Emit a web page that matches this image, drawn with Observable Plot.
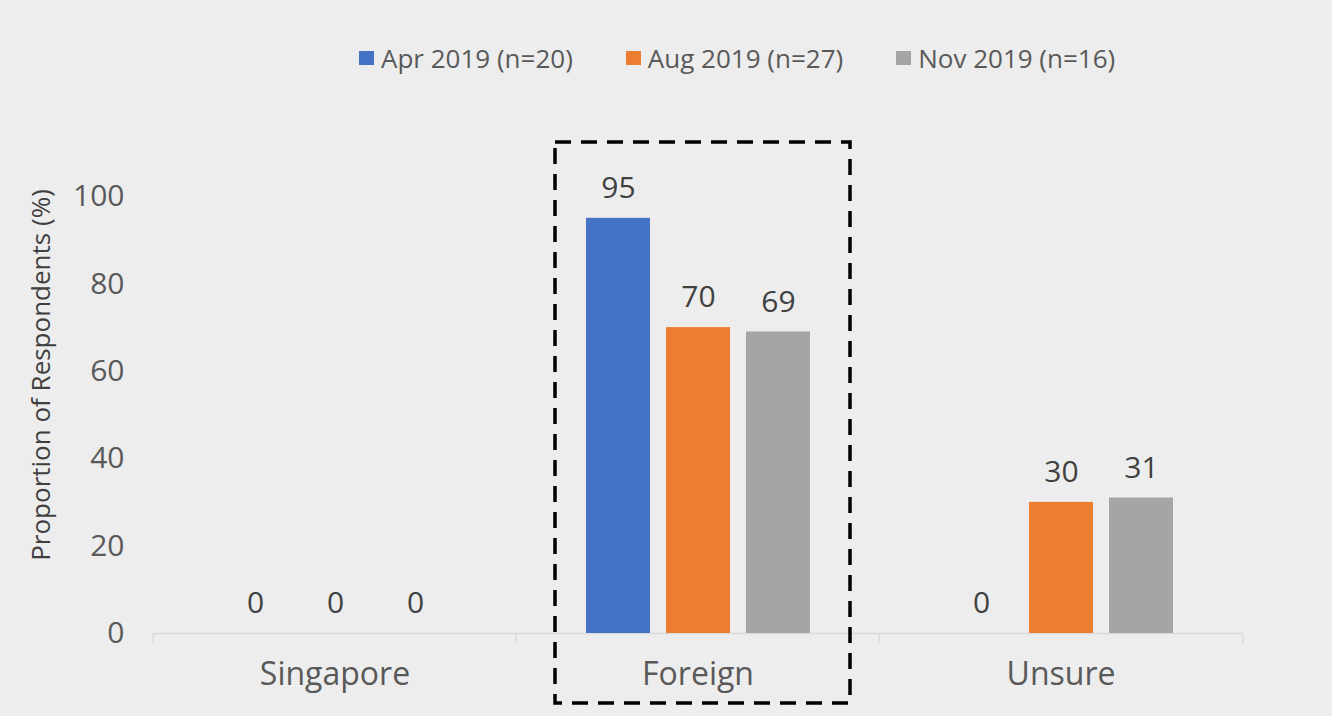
<!DOCTYPE html>
<html>
<head>
<meta charset="utf-8">
<script src="https://cdn.jsdelivr.net/npm/d3@7"></script>
<script src="https://cdn.jsdelivr.net/npm/@observablehq/plot@0.6"></script>
<style>
  html, body { margin: 0; padding: 0; background: #ededed; width: 1332px; height: 716px; overflow: hidden; }
  #legend { position: relative; height: 100px; box-sizing: border-box; padding-top: 40px; padding-left: 359px;
            display: flex; align-items: flex-start; gap: 53px; font-family: "Open Sans", sans-serif; font-size: 26px; color: #595959; }
  .item { display: flex; align-items: center; white-space: nowrap; height: 36px; line-height: 36px; }
  .sw { width: 15px; height: 14px; margin-right: 7px; display: inline-block; }
  svg { display: block; }
</style>
</head>
<body>
<div id="legend"></div>
<div id="chart"></div>
<script>
// ---- data ----
const categories = ["Singapore", "Foreign", "Unsure"];
const series = ["Apr 2019 (n=20)", "Aug 2019 (n=27)", "Nov 2019 (n=16)"];
const apr2019 = [0, 95, 0];
const aug2019 = [0, 70, 30];
const nov2019 = [0, 69, 31];
const seriesColors = ["#4472C4", "#ED7D31", "#A5A5A5"];
const yTicks = [0, 20, 40, 60, 80, 100];
const highlighted = ["Foreign"];
const yLabel = "Proportion of Respondents (%)";

// ---- table ----
const valuesBySeries = [apr2019, aug2019, nov2019];
const rows = [];
categories.forEach((c, ci) => series.forEach((s, si) => rows.push({category: c, series: s, value: valuesBySeries[si][ci]})));

// ---- legend ----
const legend = document.getElementById("legend");
series.forEach((s, i) => {
  const it = document.createElement("div");
  it.className = "item";
  const sw = document.createElement("span");
  sw.className = "sw";
  sw.style.background = seriesColors[i];
  it.appendChild(sw);
  it.appendChild(document.createTextNode(s));
  legend.appendChild(it);
});

// ---- layout ----
const W = 1332, H = 616, ML = 152, MR = 89, MT = 96, MB = 83;
const facetW = (W - ML - MR) / categories.length;

const chart = Plot.plot({
  width: W, height: H,
  marginLeft: ML, marginRight: MR, marginTop: MT, marginBottom: MB,
  style: {background: "#ededed", fontFamily: "Open Sans, sans-serif", color: "#595959", overflow: "visible"},
  fx: {domain: categories, padding: 0, label: null},
  x: {domain: series, axis: null, paddingInner: 0.205, paddingOuter: 0.863},
  y: {domain: [0, 100], label: null},
  color: {domain: series, range: seriesColors},
  marks: [
    Plot.axisY({ticks: yTicks, tickSize: 0, tickPadding: 29, fontSize: 30, label: null, fill: "#595959"}),
    Plot.axisY({ticks: [], tickSize: 0, label: yLabel, labelArrow: "none", labelAnchor: "center", labelOffset: 122, fontSize: 26, fill: "#404040"}),
    Plot.axisFx({anchor: "bottom", tickSize: 0, tickPadding: 29, fontSize: 32, label: null, fill: "#595959"}),
    Plot.ruleY([0], {stroke: "#d9d9d9", strokeWidth: 1.5}),
    Plot.ruleX(categories, {fx: d => d, x: null, y1: 0, y2: 0, insetBottom: -10, dx: -facetW / 2, stroke: "#d9d9d9", strokeWidth: 1.5}),
    Plot.ruleX(categories.slice(-1), {fx: d => d, x: null, y1: 0, y2: 0, insetBottom: -10, dx: facetW / 2, stroke: "#d9d9d9", strokeWidth: 1.5}),
    Plot.barY(rows, {fx: "category", x: "series", y: "value", fill: "series"}),
    Plot.text(rows, {fx: "category", x: "series", y: "value", text: d => String(d.value), dy: -30, fontSize: 30, fill: "#404040"}),
    Plot.rect(highlighted, {fx: d => d, fill: "none", stroke: "#000", strokeWidth: 3.5, strokeDasharray: "16,10",
      insetLeft: 39, insetRight: 29, insetTop: -54, insetBottom: -70})
  ]
});
document.getElementById("chart").appendChild(chart);

// shift the rotated y-axis title up to match the reference placement
const lab = Array.from(chart.querySelectorAll("text")).find(t => t.textContent.startsWith("Proportion"));
if (lab) {
  const g = lab.parentNode;
  g.setAttribute("transform", "translate(0,-40) " + (g.getAttribute("transform") || ""));
}
</script>
</body>
</html>
